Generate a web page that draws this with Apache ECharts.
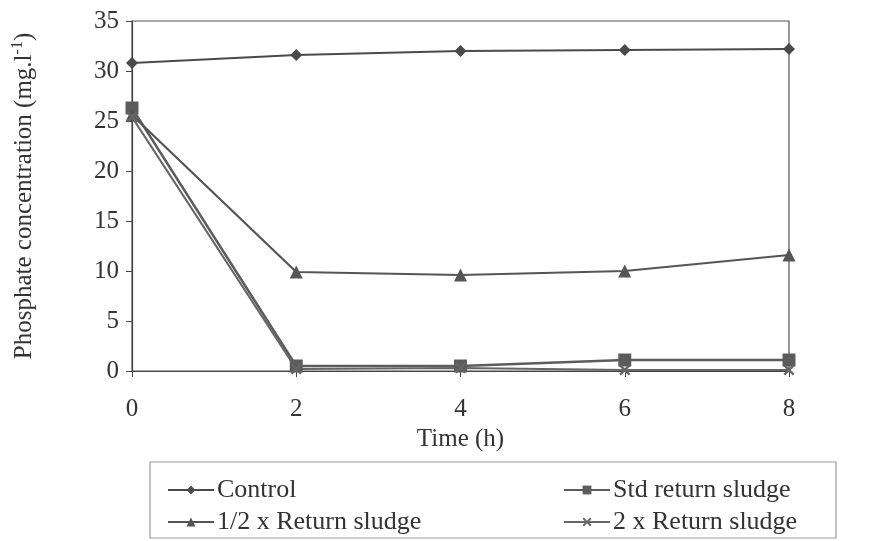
<!DOCTYPE html>
<html>
<head>
<meta charset="utf-8">
<script src="https://cdn.jsdelivr.net/npm/echarts@6/dist/echarts.min.js"></script>
<style>html,body{margin:0;padding:0;background:#fff;}#c{width:881px;height:541px;}</style>
</head>
<body>
<div id="c"></div>
<script>
const times = [0, 2, 4, 6, 8];
const control = [30.8, 31.6, 32.0, 32.1, 32.2];
const stdReturn = [26.3, 0.5, 0.5, 1.1, 1.1];
const halfReturn = [25.6, 9.9, 9.6, 10.0, 11.6];
const doubleReturn = [25.4, 0.2, 0.3, 0.1, 0.1];
const seriesNames = ['Control', 'Std return sludge', '1/2 x Return sludge', '2 x Return sludge'];

const pair = (vals) => times.map((t, i) => [t, vals[i]]);
const font = 'Liberation Serif';
const xSym = 'path://M0,1.5L1.5,0L5,3.5L8.5,0L10,1.5L6.5,5L10,8.5L8.5,10L5,6.5L1.5,10L0,8.5L3.5,5Z';

function mk(name, vals, symbol, size, color, width) {
  return {
    name: name, type: 'line', data: pair(vals), symbol: symbol, symbolSize: size,
    lineStyle: { color: color, width: width }, itemStyle: { color: color },
    emphasis: { disabled: true }, animation: false
  };
}

const legendText = { fontFamily: font, fontSize: 26, color: '#333', padding: [0, 0, 0, -2] };

const chart = echarts.init(document.getElementById('c'));
chart.setOption({
  backgroundColor: '#fff',
  animation: false,
  grid: { left: 132, right: 92, top: 21, bottom: 170, show: true, borderColor: '#555', borderWidth: 1.2, backgroundColor: 'transparent' },
  xAxis: {
    type: 'value', min: 0, max: 8, interval: 2,
    name: 'Time (h)', nameLocation: 'middle', nameGap: 52,
    nameTextStyle: { fontFamily: font, fontSize: 25, color: '#333' },
    axisLine: { lineStyle: { color: '#444', width: 1.2 } },
    axisTick: { show: true, length: 6, lineStyle: { color: '#444' } },
    axisLabel: { fontFamily: font, fontSize: 25, color: '#333', margin: 26 },
    splitLine: { show: false }
  },
  yAxis: {
    type: 'value', min: 0, max: 35, interval: 5,
    name: 'Phosphate concentration (mg.l{sup|-1})', nameLocation: 'middle', nameGap: 94, nameRotate: 90,
    nameTextStyle: { fontFamily: font, fontSize: 25, color: '#333', rich: { sup: { fontFamily: font, fontSize: 16, color: '#333', verticalAlign: 'top', padding: [0, 0, 12, 0] } } },
    axisLine: { show: true, lineStyle: { color: '#444', width: 1.2 } },
    axisTick: { show: true, length: 6, lineStyle: { color: '#444' } },
    axisLabel: { fontFamily: font, fontSize: 25, color: '#333', margin: 13 },
    splitLine: { show: false }
  },
  legend: [
    {
      data: [seriesNames[0], seriesNames[2]], orient: 'vertical', left: 162, top: 472, itemGap: 6,
      itemWidth: 46, itemHeight: 11, textStyle: legendText, selectedMode: false
    },
    {
      data: [seriesNames[1], seriesNames[3]], orient: 'vertical', left: 558, top: 472, itemGap: 6,
      itemWidth: 46, itemHeight: 11, textStyle: legendText, selectedMode: false
    }
  ],
  graphic: [
    { type: 'rect', shape: { x: 150, y: 462, width: 686, height: 76 }, style: { fill: 'none', stroke: '#999', lineWidth: 1.2 }, silent: true }
  ],
  series: [
    mk(seriesNames[0], control, 'diamond', 12, '#4a4a4a', 1.8),
    mk(seriesNames[1], stdReturn, 'rect', 13, '#5c5c5c', 2.4),
    mk(seriesNames[2], halfReturn, 'triangle', 13, '#555', 2.2),
    mk(seriesNames[3], doubleReturn, xSym, 11, '#666', 2.2)
  ]
});
</script>
</body>
</html>
